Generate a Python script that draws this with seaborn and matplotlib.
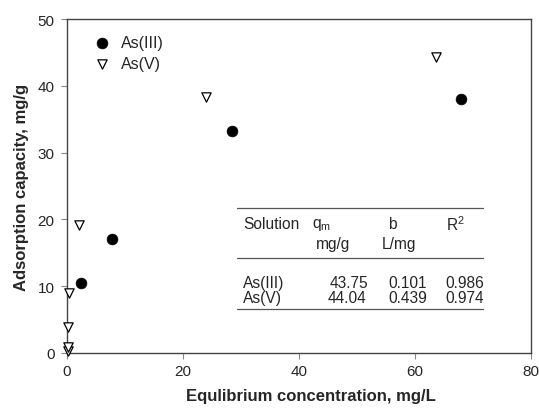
import matplotlib
matplotlib.use("Agg")
import matplotlib.pyplot as plt
import seaborn as sns
import pandas as pd

# Data
as3_ce = [2.4, 7.8, 28.4, 67.9]
as3_q = [10.5, 17.1, 33.2, 38.0]
as5_ce = [0.1, 0.15, 0.2, 0.3, 2.1, 23.9, 63.6]
as5_q = [0.3, 0.9, 3.9, 9.0, 19.2, 38.3, 44.3]

table_header = ["Solution", "q$_{\\mathregular{m}}$", "b", "R$^{\\mathregular{2}}$"]
table_units = ["", "mg/g", "L/mg", ""]
table_rows = [["As(III)", "43.75", "0.101", "0.986"],
              ["As(V)", "44.04", "0.439", "0.974"]]

sns.set_style("ticks")
plt.rcParams['font.family'] = ['Liberation Sans', 'DejaVu Sans']
plt.rcParams['mathtext.fontset'] = 'custom'
plt.rcParams['mathtext.rm'] = 'Liberation Sans'

fig = plt.figure(figsize=(5.39, 4.10), dpi=100)
ax = fig.add_axes([67/539, 1-354/410, (531-67)/539, (354-20)/410])

df3 = pd.DataFrame({"ce": as3_ce, "q": as3_q})
df5 = pd.DataFrame({"ce": as5_ce, "q": as5_q})

sns.scatterplot(data=df3, x="ce", y="q", ax=ax, marker="o", s=60,
                color="black", edgecolor="black", linewidth=0.5,
                label="As(III)", clip_on=False, zorder=3)
sns.scatterplot(data=df5, x="ce", y="q", ax=ax, marker="v", s=45,
                facecolor="white", edgecolor="black", linewidth=0.9,
                label="As(V)", clip_on=False, zorder=4)

ax.set_xlim(0, 80)
ax.set_ylim(0, 50)
ax.set_xticks([0, 20, 40, 60, 80])
ax.set_yticks([0, 10, 20, 30, 40, 50])
for s in ax.spines.values():
    s.set_color("#444444")
    s.set_linewidth(1.0)
ax.tick_params(direction="out", length=4, width=0.8, color="#888888",
               labelsize=11, pad=4)
ax.tick_params(axis="y", pad=5)
ax.set_xlabel("Equlibrium concentration, mg/L", fontsize=12,
              fontweight="bold")
ax.xaxis.set_label_coords(0.526, -0.105)
ax.set_ylabel("Adsorption capacity, mg/g", fontsize=12,
              fontweight="bold", labelpad=6)

leg = ax.legend(loc="upper left", bbox_to_anchor=(0.03, 0.985), frameon=False,
                fontsize=11.5, handletextpad=0.6, borderaxespad=0.3,
                labelspacing=0.35, handlelength=1.2)

# Inset table
def px(x, y):
    return (x - 67) / (531 - 67), (354 - y) / (354 - 20)

fs = 11.2
for yy in (209, 259, 310):
    x0, y0 = px(237, yy)
    x1, _ = px(483, yy)
    ax.plot([x0, x1], [y0, y0], transform=ax.transAxes, color="#555555",
            lw=0.9, clip_on=False)

col_left = [243, 312, 388, 446]
for i, t in enumerate(table_header):
    x, y = px(col_left[i], 225)
    ax.text(x, y, t, transform=ax.transAxes, fontsize=fs, ha="left", va="center")
unit_x = [0, 333, 399, 0]
for i, t in enumerate(table_units):
    if t:
        x, y = px(unit_x[i], 245)
        ax.text(x, y, t, transform=ax.transAxes, fontsize=fs, ha="center", va="center")

num_right = [None, 368, 427, 484]
for r, row in enumerate(table_rows):
    yy = 284 + r * 14.5
    x, y = px(243, yy)
    ax.text(x, y, row[0], transform=ax.transAxes, fontsize=fs, ha="left", va="center")
    for c in range(1, 4):
        x, y = px(num_right[c] - (2 if (r == 1 and c == 1) else 0), yy)
        ax.text(x, y, row[c], transform=ax.transAxes, fontsize=fs, ha="right", va="center")

fig.savefig("out.png", dpi=100)
